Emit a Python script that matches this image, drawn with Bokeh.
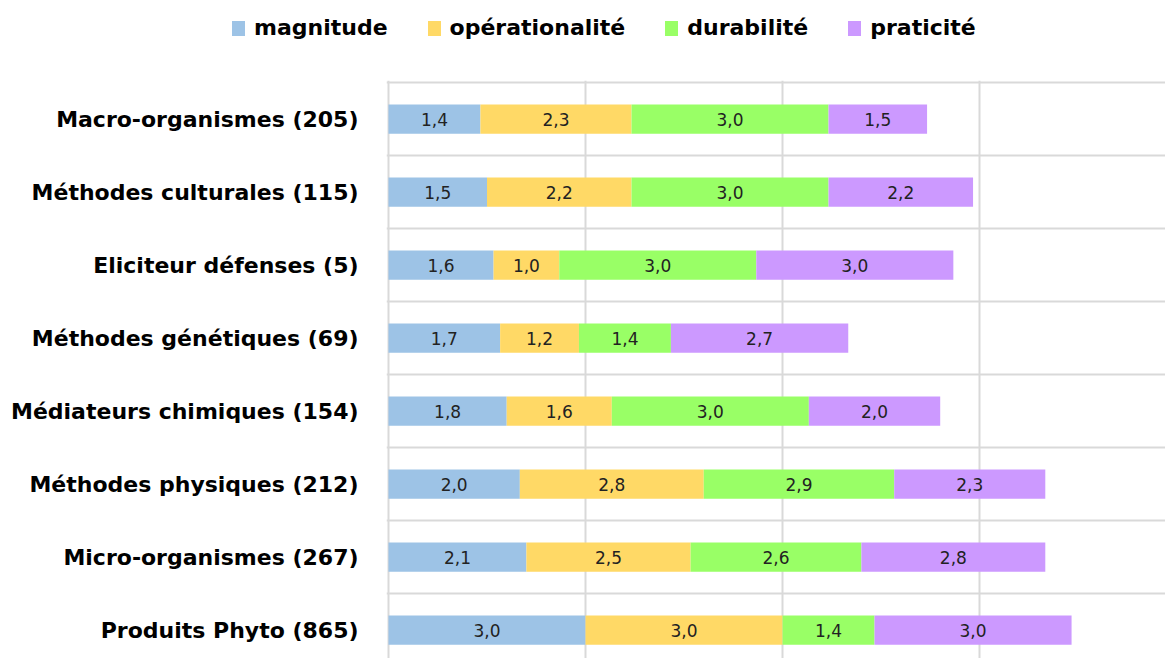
from bokeh.plotting import figure
from bokeh.models import ColumnDataSource, Range1d, FixedTicker, Div
from bokeh.layouts import column
from bokeh.core.properties import value
from bokeh.embed import file_html
from bokeh.resources import INLINE

categories = ["Macro-organismes (205)", "Méthodes culturales (115)", "Eliciteur défenses (5)",
              "Méthodes génétiques (69)", "Médiateurs chimiques (154)", "Méthodes physiques (212)",
              "Micro-organismes (267)", "Produits Phyto (865)"]
magnitude = [1.4, 1.5, 1.6, 1.7, 1.8, 2.0, 2.1, 3.0]
operationalite = [2.3, 2.2, 1.0, 1.2, 1.6, 2.8, 2.5, 3.0]
durabilite = [3.0, 3.0, 3.0, 1.4, 3.0, 2.9, 2.6, 1.4]
praticite = [1.5, 2.2, 3.0, 2.7, 2.0, 2.3, 2.8, 3.0]
series_keys = ["magnitude", "operationalite", "durabilite", "praticite"]
series_names = ["magnitude", "opérationalité", "durabilité", "praticité"]
colors = ["#9DC3E6", "#FFD966", "#99FF66", "#CC99FF"]
x_ticks = [0, 3, 6, 9]

FONT = "DejaVu Sans"
W = 1165
TOP_H = 80
MAIN_H = 658 - TOP_H

pos = [i + 0.5 for i in range(len(categories))]
src = ColumnDataSource(dict(y=pos, magnitude=magnitude, operationalite=operationalite,
                            durabilite=durabilite, praticite=praticite))

# ---------- main chart ----------
p = figure(width=W, height=MAIN_H, x_range=Range1d(-0.03, 11.83), y_range=Range1d(7.89, -0.03),
           output_backend="svg", toolbar_location=None, x_axis_location=None,
           min_border_left=386, min_border_right=0, min_border_top=0, min_border_bottom=0)
p.outline_line_color = None

p.xgrid.ticker = FixedTicker(ticks=x_ticks)
p.xgrid.grid_line_color = "#d9d9d9"
p.xgrid.grid_line_width = 2
p.ygrid.ticker = FixedTicker(ticks=list(range(len(categories) + 1)))
p.ygrid.grid_line_color = "#d9d9d9"
p.ygrid.grid_line_width = 2

rends = p.hbar_stack(series_keys, y="y", height=0.4, color=colors, line_color=None, source=src)

# data labels
lx, ly, lt = [], [], []
series_vals = [magnitude, operationalite, durabilite, praticite]
for i in range(len(categories)):
    left = 0.0
    for vals in series_vals:
        v = vals[i]
        lx.append(left + v / 2)
        ly.append(pos[i])
        lt.append(f"{v:.1f}".replace(".", ","))
        left += v
lsrc = ColumnDataSource(dict(x=lx, y=ly, t=lt))
p.text(x="x", y="y", text="t", source=lsrc, text_align="center", text_baseline="middle",
       text_font_size="17px", text_color="#222222", text_font=value(FONT))

yax = p.yaxis[0]
yax.ticker = FixedTicker(ticks=pos)
yax.major_label_overrides = {pv: c for pv, c in zip(pos, categories)}
yax.major_tick_out = 0
yax.major_tick_in = 0
yax.minor_tick_out = 0
yax.minor_tick_in = 0
yax.axis_line_color = None
yax.major_label_standoff = 28
yax.major_label_text_font = FONT
yax.major_label_text_font_style = "bold"
yax.major_label_text_font_size = "22px"
yax.major_label_text_color = "#000000"

# ---------- legend strip ----------
items_html = "".join(
    f'<span style="display:inline-block;width:13px;height:15px;background:{c};'
    f'margin-right:9px;vertical-align:middle"></span>'
    f'<span style="display:inline-block;vertical-align:middle;margin-right:40px">{n}</span>'
    for n, c in zip(series_names, colors))
legend_div = Div(
    text=(f'<div style="padding-left:232px;padding-top:14px;font-family:\'DejaVu Sans\';'
          f'font-weight:bold;font-size:22px;line-height:26px;white-space:nowrap;color:#000">'
          f'{items_html}</div>'),
    width=W, height=TOP_H, margin=0)

layout = column(legend_div, p, spacing=0)
open("out.html", "w").write(file_html(layout, INLINE))
